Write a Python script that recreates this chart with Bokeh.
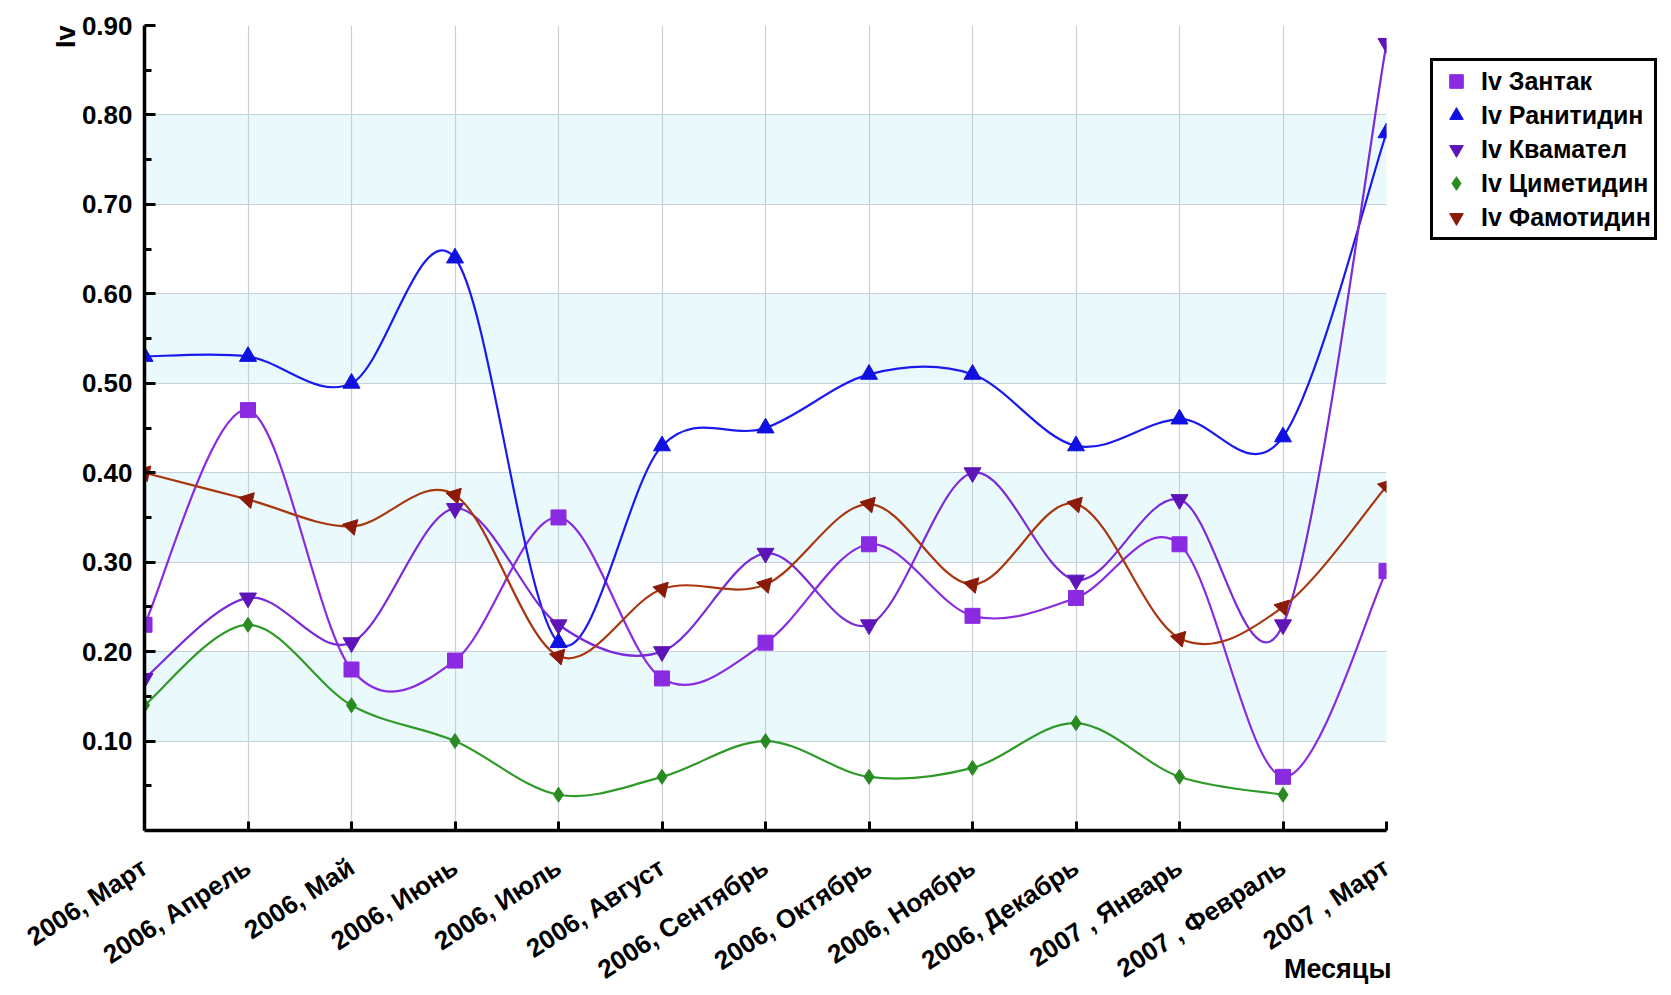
import math
from bokeh.plotting import figure
from bokeh.models import FixedTicker, Legend, LegendItem, BoxAnnotation, Title
from bokeh.embed import file_html
from bokeh.resources import INLINE

months = ["2006, Март", "2006, Апрель", "2006, Май", "2006, Июнь", "2006, Июль",
          "2006, Август", "2006, Сентябрь", "2006, Октябрь", "2006, Ноябрь",
          "2006, Декабрь", "2007 , Январь", "2007 , Февраль", "2007 , Март"]
zantac = [0.23, 0.47, 0.18, 0.19, 0.35, 0.17, 0.21, 0.32, 0.24, 0.26, 0.32, 0.06, 0.29]
ranitidine = [0.53, 0.53, 0.50, 0.64, 0.21, 0.43, 0.45, 0.51, 0.51, 0.43, 0.46, 0.44, 0.78]
kvamatel = [0.17, 0.26, 0.21, 0.36, 0.23, 0.20, 0.31, 0.23, 0.40, 0.28, 0.37, 0.23, 0.88]
cimetidine = [0.14, 0.23, 0.14, 0.10, 0.04, 0.06, 0.10, 0.06, 0.07, 0.12, 0.06, 0.04]
famotidine = [0.40, 0.37, 0.34, 0.375, 0.195, 0.27, 0.275, 0.365, 0.275, 0.365, 0.215, 0.25, 0.385]
y_ticks = [0.1, 0.2, 0.3, 0.4, 0.5, 0.6, 0.7, 0.8, 0.9]

series = [
    ("Iv Зантак", zantac, "#8a2be2", "#8a2be2", "square", 15, 0.0),
    ("Iv Ранитидин", ranitidine, "#1a1aee", "#1010e0", "triangle", 17, 0.0),
    ("Iv Квамател", kvamatel, "#7a2ad8", "#5e14b8", "inverted_triangle", 17, 0.0),
    ("Iv Циметидин", cimetidine, "#2f9a28", "#2a8a22", "diamond", 15, 0.0),
    ("Iv Фамотидин", famotidine, "#a8360f", "#8b1a08", "inverted_triangle", 16, 0.3),
]

FONT = "Liberation Sans"
NB = "\u00a0"


def bezier_segments(xs, ys):
    n = len(xs)
    out = {k: [] for k in ["x0", "y0", "x1", "y1", "cx0", "cy0", "cx1", "cy1"]}
    for i in range(n - 1):
        xa, ya = (xs[i - 1], ys[i - 1]) if i > 0 else (xs[i], ys[i])
        xd, yd = (xs[i + 2], ys[i + 2]) if i + 2 < n else (xs[i + 1], ys[i + 1])
        xb, yb = xs[i], ys[i]
        xc, yc = xs[i + 1], ys[i + 1]
        out["x0"].append(xb); out["y0"].append(yb)
        out["x1"].append(xc); out["y1"].append(yc)
        out["cx0"].append(xb + (xc - xa) / 6.0); out["cy0"].append(yb + (yc - ya) / 6.0)
        out["cx1"].append(xc - (xd - xb) / 6.0); out["cy1"].append(yc - (yd - yb) / 6.0)
    return out


p = figure(frame_width=1242, frame_height=805,
           min_border_left=144, min_border_right=269, min_border_top=25, min_border_bottom=140,
           x_range=(0, 12), y_range=(0, 0.9),
           output_backend="svg", toolbar_location=None)
p.outline_line_color = None
p.background_fill_color = "white"

for b in [0.1, 0.3, 0.5, 0.7]:
    p.add_layout(BoxAnnotation(bottom=b, top=b + 0.1, fill_color="#eaf9fc", fill_alpha=1.0,
                               line_color=None, level="image"))

p.xgrid.ticker = FixedTicker(ticks=list(range(len(months))))
p.ygrid.ticker = FixedTicker(ticks=y_ticks)
p.grid.grid_line_color = "#c6d1d9"
p.grid.grid_line_width = 1.2

# axes
p.xaxis.ticker = FixedTicker(ticks=list(range(len(months))))
p.xaxis.major_label_overrides = {i: m for i, m in enumerate(months)}
p.xaxis.major_label_orientation = math.radians(33)
p.xaxis.major_label_text_font = FONT
p.xaxis.major_label_text_font_style = "bold"
p.xaxis.major_label_text_font_size = "26px"
p.xaxis.major_label_text_color = "black"
p.xaxis.major_label_standoff = 34
p.xaxis.major_tick_in = 9
p.xaxis.major_tick_out = 0
p.xaxis.minor_tick_line_color = None

p.yaxis.ticker = FixedTicker(ticks=y_ticks, minor_ticks=[0.05 + 0.1 * k for k in range(9)])
p.yaxis.major_label_overrides = {t: f"{t:.2f}" for t in y_ticks}
p.yaxis.major_label_text_font = FONT
p.yaxis.major_label_text_font_style = "bold"
p.yaxis.major_label_text_font_size = "26px"
p.yaxis.major_label_text_color = "black"
p.yaxis.major_label_standoff = 12
p.yaxis.major_tick_in = 11
p.yaxis.major_tick_out = 0
p.yaxis.minor_tick_in = 7
p.yaxis.minor_tick_out = 0

for ax in (p.xaxis, p.yaxis):
    ax.axis_line_width = 3.5
    ax.axis_line_color = "black"
    ax.major_tick_line_width = 3
    ax.major_tick_line_color = "black"
    ax.minor_tick_line_width = 3
    ax.minor_tick_line_color = "black"

xax = p.xaxis[0]
yax = p.yaxis[0]
has_align = "axis_label_align" in xax.properties()
if has_align:
    yax.axis_label = "Iv" + NB * 3
    yax.axis_label_align = "end"
    yax.axis_label_standoff = -2
    yax.axis_label_text_font = FONT
    yax.axis_label_text_font_style = "bold"
    yax.axis_label_text_font_size = "27px"
    yax.axis_label_text_color = "black"
    xax.axis_label = "Месяцы" + NB * 13
    xax.axis_label_align = "end"
    xax.axis_label_standoff = -46
    xax.axis_label_text_font = FONT
    xax.axis_label_text_font_style = "bold"
    xax.axis_label_text_font_size = "27px"
    xax.axis_label_text_color = "black"
else:
    p.add_layout(Title(text="Iv", align="right", text_font=FONT, text_font_style="bold",
                       text_font_size="27px", text_color="black"), "left")
    p.add_layout(Title(text="Месяцы", align="right", text_font=FONT, text_font_style="bold",
                       text_font_size="27px", text_color="black"), "below")

items = []
for label, vals, lc, mc, marker, size, ang in series:
    xs = list(range(len(vals)))
    seg = bezier_segments(xs, vals)
    p.bezier(x0=seg["x0"], y0=seg["y0"], x1=seg["x1"], y1=seg["y1"],
             cx0=seg["cx0"], cy0=seg["cy0"], cx1=seg["cx1"], cy1=seg["cy1"],
             line_color=lc, line_width=2.2)
for label, vals, lc, mc, marker, size, ang in series:
    xs = list(range(len(vals)))
    r = p.scatter(xs, vals, marker=marker, size=size, angle=ang,
                  fill_color=mc, line_color=mc, line_width=1)
    items.append(LegendItem(label=label, renderers=[r]))

legend = Legend(items=items, location=(44, 590))
legend.label_text_font = FONT
legend.label_text_font_style = "bold"
legend.label_text_font_size = "25px"
legend.label_text_color = "black"
legend.label_height = 34
legend.glyph_height = 34
legend.glyph_width = 40
legend.label_standoff = 5
legend.spacing = 0
legend.padding = 3
legend.margin = 0
legend.border_line_color = "black"
legend.border_line_alpha = 1.0
legend.border_line_width = 3.5
legend.background_fill_color = "white"
legend.background_fill_alpha = 1.0
p.add_layout(legend, "right")

open("out.html", "w").write(file_html(p, INLINE))
